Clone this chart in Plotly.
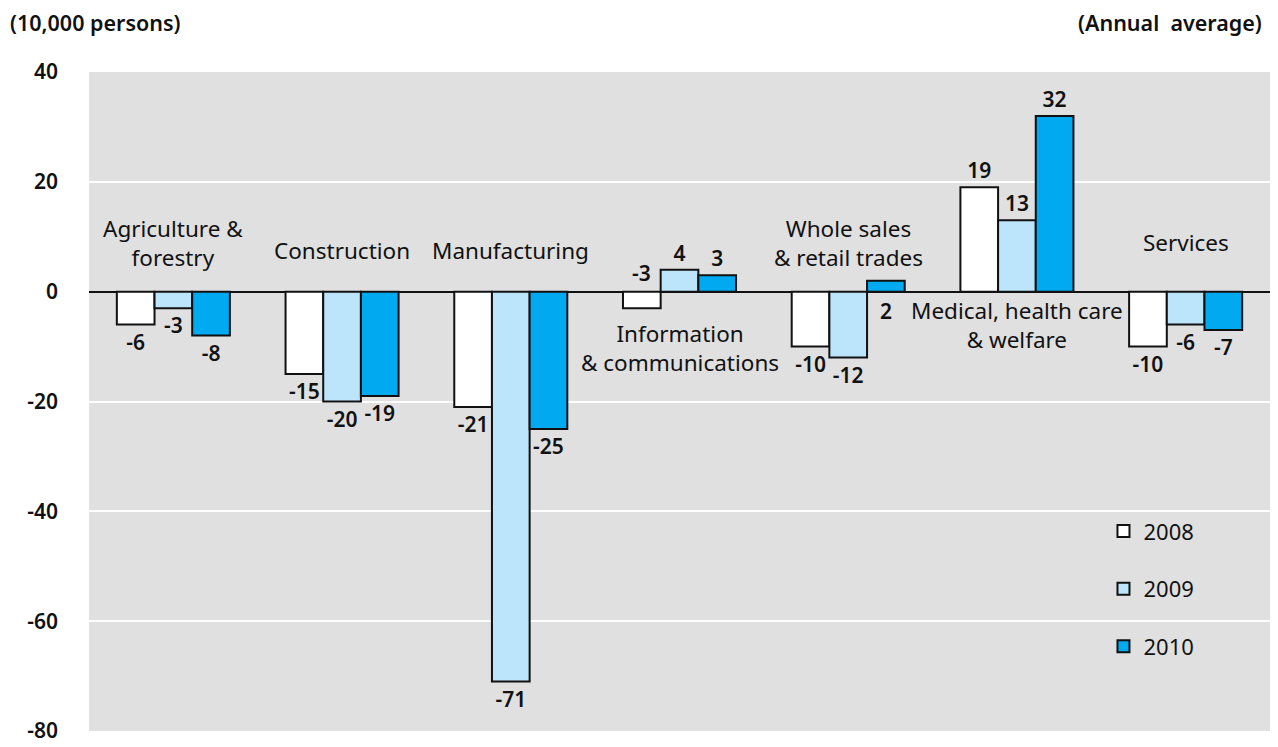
import plotly.graph_objects as go

categories = ["Agriculture & forestry", "Construction", "Manufacturing",
              "Information & communications", "Whole sales & retail trades",
              "Medical, health care & welfare", "Services"]
cat_labels = ["Agriculture &<br>forestry", "Construction", "Manufacturing",
              "Information<br>& communications", "Whole sales<br>& retail trades",
              "Medical, health care<br>& welfare", "Services"]
cat_label_y = [8.8, 7.5, 7.5, -10.2, 8.9, -6.0, 9.0]
years = ["2008", "2009", "2010"]
v2008 = [-6, -15, -21, -3, -10, 19, -10]
v2009 = [-3, -20, -71, 4, -12, 13, -6]
v2010 = [-8, -19, -25, 3, 2, 32, -7]
colors = ["#ffffff", "#bce4fa", "#00a9f0"]
y_ticks = [40, 20, 0, -20, -40, -60, -80]
y_tick_text = ["40", "20", "0", "-20", "-40", "-60", "-80"]

FONT = "Noto Sans"
series = [v2008, v2009, v2010]
# label exceptions: (series index, category index, side)
special = {(0, 3): "above", (2, 4): "below"}

fig = go.Figure()
for si, (yr, vals, col) in enumerate(zip(years, series, colors)):
    texts = []
    for ci, v in enumerate(vals):
        texts.append("" if (si, ci) in special else str(v))
    fig.add_trace(go.Bar(
        name=yr, x=categories, y=vals, text=texts,
        textposition="outside", cliponaxis=False,
        textfont=dict(family=FONT, size=21, color="#111", weight=600),
        marker=dict(color=col, line=dict(color="#111", width=2)),
        legendgroup=yr,
    ))

bar_w = 1181 / 7 * 0.67 / 3
annotations = []
for (si, ci), side in special.items():
    v = series[si][ci]
    annotations.append(dict(
        x=categories[ci], y=0, xref="x", yref="y", text=str(v),
        showarrow=False, xshift=(si - 1) * bar_w,
        yanchor="bottom" if side == "above" else "top",
        yshift=3 if side == "above" else -3,
        font=dict(family=FONT, size=21, color="#111", weight=600)))
for c, lab, ly in zip(categories, cat_labels, cat_label_y):
    annotations.append(dict(
        x=c, y=ly, xref="x", yref="y", text=lab, showarrow=False,
        font=dict(family=FONT, size=22.5, color="#111")))
annotations.append(dict(text="(10,000 persons)", xref="x domain", yref="y domain",
                        x=-81/1181, y=1 + 50/659, showarrow=False,
                        xanchor="left", yanchor="middle",
                        font=dict(family=FONT, size=21.5, color="#111", weight=600)))
annotations.append(dict(text="(Annual&nbsp; average)", xref="x domain", yref="y domain",
                        x=1 - 6/1181, y=1 + 50/659, showarrow=False,
                        xanchor="right", yanchor="middle",
                        font=dict(family=FONT, size=21.5, color="#111", weight=600)))

fig.update_layout(
    width=1278, height=747,
    margin=dict(l=89, r=8, t=72, b=16, autoexpand=False),
    paper_bgcolor="white", plot_bgcolor="#e0e0e0",
    barmode="group", bargap=0.33, bargroupgap=0,
    font=dict(family=FONT, color="#111"),
    annotations=annotations,
    legend=dict(x=0.859, y=0.335, xanchor="left", yanchor="top",
                bgcolor="rgba(0,0,0,0)", tracegroupgap=26,
                font=dict(family=FONT, size=22, color="#111"),
                itemwidth=30),
)
fig.update_xaxes(showticklabels=False, showgrid=False, zeroline=False,
                 showline=False, ticks="", automargin=False)
fig.update_yaxes(range=[-80, 40], tickvals=y_ticks, ticktext=y_tick_text,
                 showgrid=True, gridcolor="white", automargin=False,
                 gridwidth=2, zeroline=True, zerolinecolor="#111", zerolinewidth=2,
                 ticklabelstandoff=30,
                 tickfont=dict(family=FONT, size=21, color="#111", weight=600))

fig.write_html("out.html")
